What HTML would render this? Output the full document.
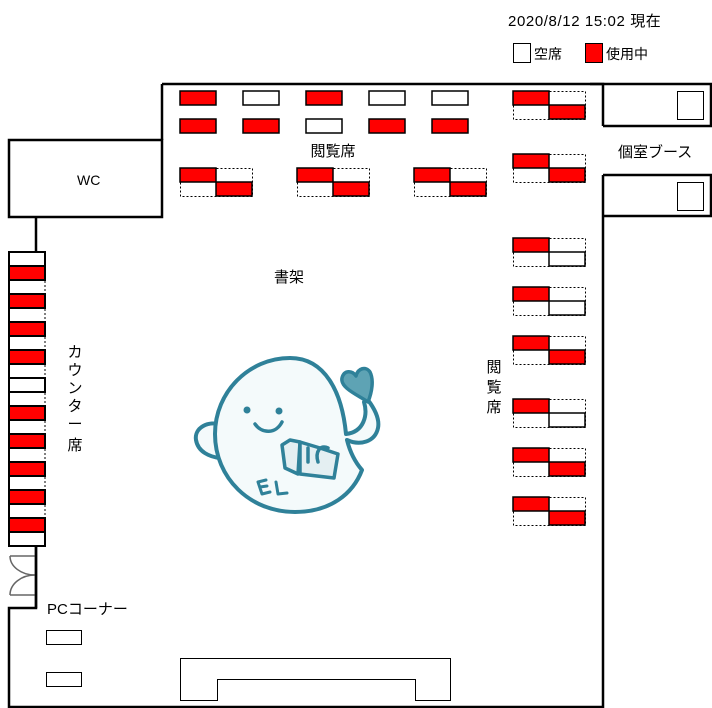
<!DOCTYPE html>
<html><head><meta charset="utf-8"><style>
html,body{margin:0;padding:0;background:#fff}
svg{display:block}
text{font-family:"Liberation Sans","Noto Sans CJK JP",sans-serif;fill:#000}
</style></head><body>
<svg width="712" height="708" viewBox="0 0 712 708" xmlns="http://www.w3.org/2000/svg">
<!-- legend -->
<text x="508" y="26" font-size="15" letter-spacing="0.6">2020/8/12 15:02 現在</text>
<rect x="513.5" y="43.5" width="17" height="19" fill="#fff" stroke="#000"/>
<text x="534" y="59" font-size="14">空席</text>
<rect x="585.5" y="43.5" width="17" height="19" fill="#f00" stroke="#000"/>
<text x="606" y="59" font-size="14">使用中</text>

<g fill="none" stroke="#000" stroke-width="2.5">
<polyline points="162,84 603,84 603,126"/>
<polyline points="603,175 603,707 9,707 9,608 36,608 36,546"/>
<line x1="590" y1="84" x2="603" y2="84"/>
<line x1="36" y1="217" x2="36" y2="252"/>
<rect x="9" y="140" width="153" height="77" fill="#fff"/>
<line x1="162" y1="84" x2="162" y2="140"/>
<polyline points="603,84 711,84 711,126 603,126"/>
<polyline points="603,175 711,175 711,216 603,216"/>
</g>
<rect x="677.5" y="91.5" width="26" height="28" fill="none" stroke="#000"/>
<rect x="677.5" y="182.5" width="26" height="28" fill="none" stroke="#000"/>
<text x="618" y="157" font-size="15">個室ブース</text>
<text x="77" y="185" font-size="14">WC</text>

<!-- counter -->
<g stroke="#000" stroke-width="2">
<rect x="9" y="252" width="36" height="294" fill="#fff"/>
<g fill="#f00">
<rect x="9" y="266" width="36" height="14"/><rect x="9" y="294" width="36" height="14"/>
<rect x="9" y="322" width="36" height="14"/><rect x="9" y="350" width="36" height="14"/>
<rect x="9" y="406" width="36" height="14"/><rect x="9" y="434" width="36" height="14"/>
<rect x="9" y="462" width="36" height="14"/><rect x="9" y="490" width="36" height="14"/>
<rect x="9" y="518" width="36" height="14"/>
</g>
<rect x="9" y="378" width="36" height="14" fill="#fff"/>
</g>
<g stroke="#fff" stroke-width="2.5">
<line x1="45" y1="281" x2="45" y2="293"/><line x1="45" y1="309" x2="45" y2="321"/>
<line x1="45" y1="337" x2="45" y2="349"/><line x1="45" y1="365" x2="45" y2="377"/>
<line x1="45" y1="393" x2="45" y2="405"/><line x1="45" y1="421" x2="45" y2="433"/>
<line x1="45" y1="449" x2="45" y2="461"/><line x1="45" y1="477" x2="45" y2="489"/>
<line x1="45" y1="505" x2="45" y2="517"/>
</g>
<g stroke="#000" stroke-width="1" stroke-dasharray="2,2">
<line x1="45" y1="281" x2="45" y2="293"/><line x1="45" y1="309" x2="45" y2="321"/>
<line x1="45" y1="337" x2="45" y2="349"/><line x1="45" y1="365" x2="45" y2="377"/>
<line x1="45" y1="393" x2="45" y2="405"/><line x1="45" y1="421" x2="45" y2="433"/>
<line x1="45" y1="449" x2="45" y2="461"/><line x1="45" y1="477" x2="45" y2="489"/>
<line x1="45" y1="505" x2="45" y2="517"/>
</g>
<g font-size="15" text-anchor="middle">
<text x="75" y="357">カ</text><text x="75" y="375">ウ</text><text x="75" y="393">ン</text>
<text x="75" y="411">タ</text><text x="75" y="429">ー</text><text x="75" y="450">席</text>
<text x="494" y="372">閲</text><text x="494" y="392">覧</text><text x="494" y="412">席</text>
</g>
<text x="333" y="156" font-size="15" text-anchor="middle">閲覧席</text>
<text x="289" y="282" font-size="15" text-anchor="middle">書架</text>
<text x="47" y="614" font-size="15">PCコーナー</text>

<!-- doors -->
<g fill="none" stroke="#666" stroke-width="1.5">
<line x1="10" y1="556" x2="35" y2="556"/><line x1="10" y1="595" x2="35" y2="595"/>
<path d="M10,556 A25,19 0 0 0 35,575"/>
<path d="M35,575 A25,20 0 0 0 10,595"/>
</g>
<line x1="36" y1="546" x2="36" y2="608" stroke="#000" stroke-width="2.5"/>

<!-- top tables -->
<g stroke="#000" stroke-width="1.5">
<rect x="180" y="91" width="36" height="14" fill="#f00"/>
<rect x="243" y="91" width="36" height="14" fill="#fff"/>
<rect x="306" y="91" width="36" height="14" fill="#f00"/>
<rect x="369" y="91" width="36" height="14" fill="#fff"/>
<rect x="432" y="91" width="36" height="14" fill="#fff"/>
<rect x="180" y="119" width="36" height="14" fill="#f00"/>
<rect x="243" y="119" width="36" height="14" fill="#f00"/>
<rect x="306" y="119" width="36" height="14" fill="#fff"/>
<rect x="369" y="119" width="36" height="14" fill="#f00"/>
<rect x="432" y="119" width="36" height="14" fill="#f00"/>
</g>

<defs>
<g id="pr">
<rect x="0.5" y="0.5" width="72" height="28" fill="none" stroke="#000" stroke-width="1" stroke-dasharray="2,2"/>
<rect x="0" y="0" width="36" height="14" fill="#f00" stroke="#000" stroke-width="1.5"/>
<rect x="36" y="14" width="36" height="14" fill="#f00" stroke="#000" stroke-width="1.5"/>
</g>
<g id="pw">
<rect x="0.5" y="0.5" width="72" height="28" fill="none" stroke="#000" stroke-width="1" stroke-dasharray="2,2"/>
<rect x="0" y="0" width="36" height="14" fill="#f00" stroke="#000" stroke-width="1.5"/>
<rect x="36" y="14" width="36" height="14" fill="#fff" stroke="#000" stroke-width="1.5"/>
</g>
</defs>
<use href="#pr" x="180" y="168"/>
<use href="#pr" x="297" y="168"/>
<use href="#pr" x="414" y="168"/>
<use href="#pr" x="513" y="91"/>
<use href="#pr" x="513" y="154"/>
<use href="#pw" x="513" y="238"/>
<use href="#pw" x="513" y="287"/>
<use href="#pr" x="513" y="336"/>
<use href="#pw" x="513" y="399"/>
<use href="#pr" x="513" y="448"/>
<use href="#pr" x="513" y="497"/>

<rect x="46.5" y="630.5" width="35" height="14" fill="none" stroke="#000"/>
<rect x="46.5" y="672.5" width="35" height="14" fill="none" stroke="#000"/>
<polygon points="180.5,700.5 180.5,658.5 450.5,658.5 450.5,700.5 415.5,700.5 415.5,679.5 217.5,679.5 217.5,700.5" fill="none" stroke="#000"/>

<!-- mascot -->
<g stroke="#2f8199" stroke-width="4" stroke-linecap="round" stroke-linejoin="round">
<path d="M222,425 C208,420 194,428 196,440 C198,452 210,457 220,458" fill="#f4fafb"/>
<path d="M290,358 C249,358 215,392 215,434 C215,478 250,512 295,512 C330,512 353,494 362,470 C355,462 350,452 347,440 C360,446 375,442 378,428 C380,418 374,408 368,400 L364,402 C368,415 364,432 346,434 C342,392 325,358 290,358 Z" fill="#f4fafb"/>
<path d="M368,402 C358,395 340,388 342,378 C344,370 352,370 356,376 C358,368 366,366 370,372 C374,380 372,392 368,402 Z" fill="#5ea3b4" stroke-width="3.5"/>
<path d="M282,445 L290,440 L300,442 L298,474 L285,468 Z" fill="#e4eff2" stroke-width="3.5"/>
<path d="M300,442 L320,448 L338,454 L334,478 L300,474 Z" fill="#e4eff2" stroke-width="3.5"/>
<path d="M308,448 L308,462 M318,462 C315,452 320,444 328,448" fill="none" stroke-width="3.5"/>
<path d="M266,480 L258,482 L262,494 L270,492 M260,487 L267,486 M276,482 L278,494 L287,493" fill="none" stroke-width="3"/>
<path d="M255,424 C262,434 276,434 282,422" fill="none" stroke-width="3.5"/>
</g>
<circle cx="247" cy="410" r="3.5" fill="#2f8199"/>
<circle cx="279" cy="411" r="3.5" fill="#2f8199"/>
</svg>
</body></html>
